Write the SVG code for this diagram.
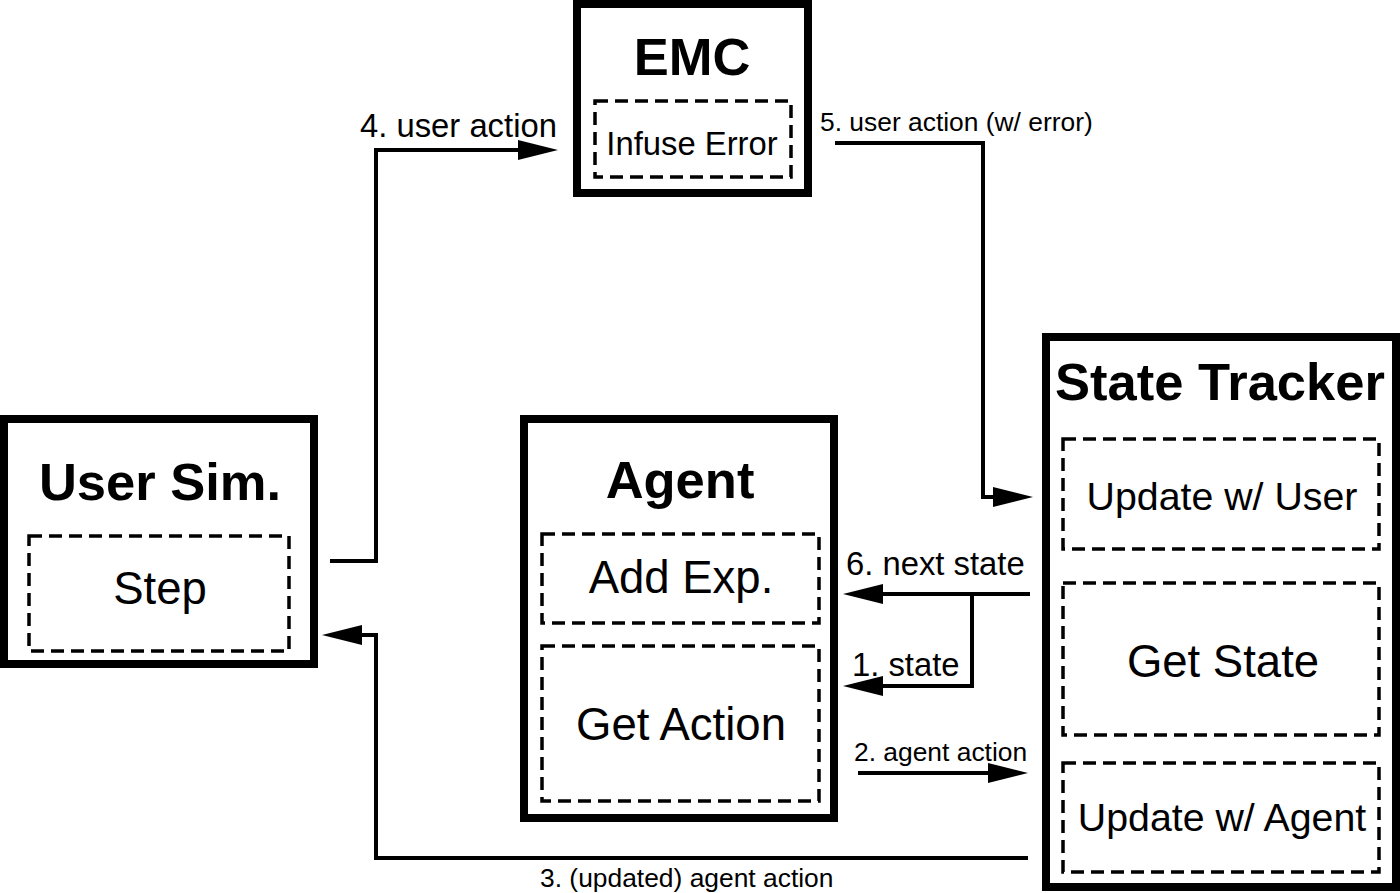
<svg xmlns="http://www.w3.org/2000/svg" width="1400" height="893" viewBox="0 0 1400 893">
<defs>
<style>
.box{fill:#fff;stroke:#000;stroke-width:8}
.sub{fill:none;stroke:#000;stroke-width:3.5;stroke-dasharray:13 7}
.title{font-family:"Liberation Sans",Arial,sans-serif;font-weight:bold;font-size:52.5px;text-anchor:middle;fill:#000}
.big{font-family:"Liberation Sans",Arial,sans-serif;font-size:45.5px;text-anchor:middle;fill:#000}
.mid{font-family:"Liberation Sans",Arial,sans-serif;font-size:39.3px;text-anchor:middle;fill:#000}
.lab{font-family:"Liberation Sans",Arial,sans-serif;font-size:32.8px;fill:#000}
.sm{font-family:"Liberation Sans",Arial,sans-serif;font-size:26.4px;fill:#000}
.conn{fill:none;stroke:#000;stroke-width:4}
</style>
<marker id="arr" markerUnits="userSpaceOnUse" markerWidth="40" markerHeight="20" refX="32" refY="10" orient="auto" viewBox="0 0 40 20">
<path d="M0,0 L40,10 L0,20 z" fill="#000"/>
</marker>
</defs>
<rect width="1400" height="893" fill="#fff"/>

<g id="emc">
<rect class="box" x="577" y="4" width="231" height="189"/>
<text class="title" x="692" y="75">EMC</text>
<rect class="sub" x="595" y="101" width="196" height="76"/>
<text class="lab" x="692" y="155" text-anchor="middle">Infuse Error</text>
</g>

<g id="user-sim">
<rect class="box" x="4" y="419" width="310" height="245"/>
<text class="title" x="160" y="500">User Sim.</text>
<rect class="sub" x="29" y="536" width="260" height="115"/>
<text class="big" x="160" y="604">Step</text>
</g>

<g id="agent">
<rect class="box" x="524" y="419" width="310" height="399"/>
<text class="title" x="680" y="498">Agent</text>
<rect class="sub" x="542" y="534" width="277" height="89"/>
<text class="big" x="681" y="593">Add Exp.</text>
<rect class="sub" x="542" y="646" width="277" height="155"/>
<text class="big" x="681" y="740">Get Action</text>
</g>

<g id="state-tracker">
<rect class="box" x="1046" y="337" width="350" height="550"/>
<text class="title" x="1220" y="400">State Tracker</text>
<rect class="sub" x="1063" y="439" width="316" height="110"/>
<text class="mid" x="1222" y="510">Update w/ User</text>
<rect class="sub" x="1063" y="583" width="316" height="152"/>
<text class="big" x="1223" y="677">Get State</text>
<rect class="sub" x="1063" y="763" width="316" height="109"/>
<text class="mid" x="1222" y="831">Update w/ Agent</text>
</g>

<g id="connectors">
<path class="conn" d="M330,561 H376 V150 H550" marker-end="url(#arr)"/>
<text class="lab" x="360" y="137">4. user action</text>
<path class="conn" d="M835,143 H983 V497 H1025" marker-end="url(#arr)"/>
<text class="sm" x="820" y="131">5. user action (w/ error)</text>
<path class="conn" d="M1030,594 H851" marker-end="url(#arr)"/>
<path class="conn" d="M972,594 V686 H851" marker-end="url(#arr)"/>
<text class="lab" x="846" y="575">6. next state</text>
<text class="lab" x="852" y="676">1. state</text>
<path class="conn" d="M858,773 H1020" marker-end="url(#arr)"/>
<text class="sm" x="854" y="761">2. agent action</text>
<path class="conn" d="M1028,858 H376 V635 H330" marker-end="url(#arr)"/>
<text class="sm" x="540" y="887">3. (updated) agent action</text>
</g>
</svg>
